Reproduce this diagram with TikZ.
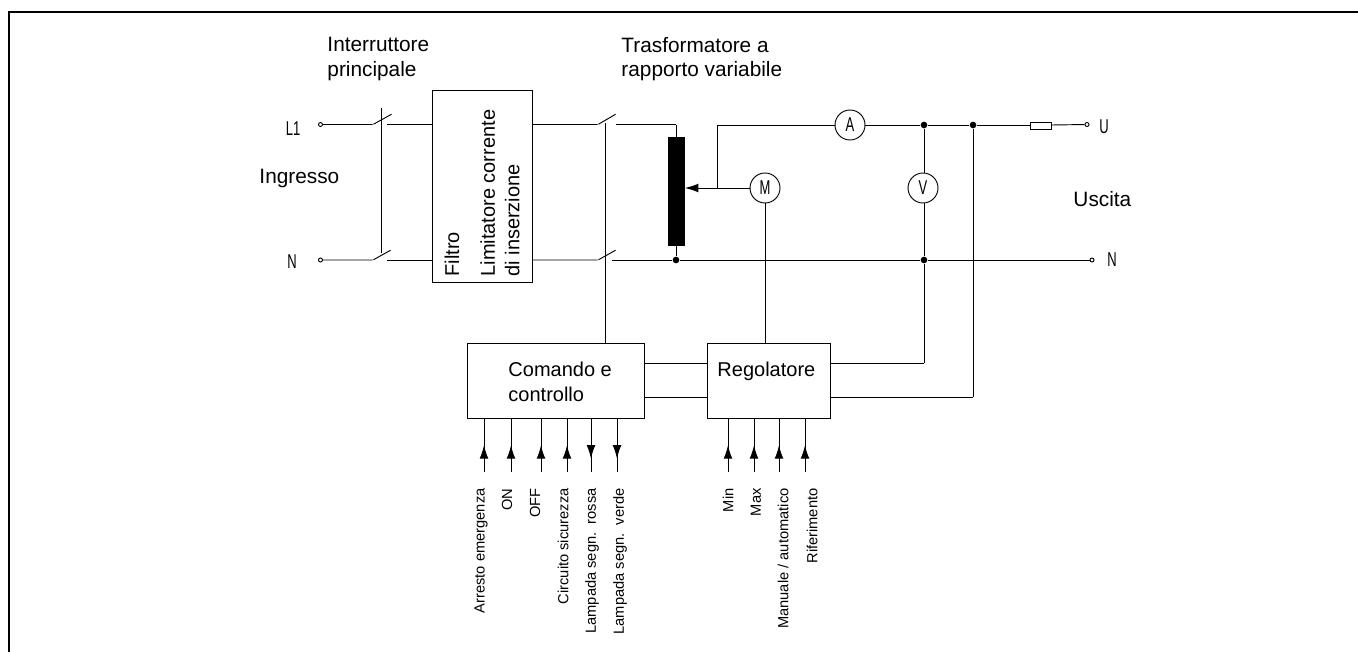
\documentclass[tikz,border=0pt]{standalone}
\usepackage{fontspec}
\setmainfont{Liberation Sans}
\newfontfamily\isofont[FakeStretch=0.65]{Liberation Sans}
\usetikzlibrary{arrows.meta,decorations.markings}
\begin{document}
\begin{tikzpicture}[x=0.75pt,y=-0.75pt,line width=0.7pt]

  \tikzstyle{blockbox}=[draw,anchor=north west,inner sep=0]
  \tikzstyle{meter}=[draw,circle,minimum size=22.5pt,inner sep=0,font=\isofont\fontsize{15}{15}\selectfont]
  \tikzstyle{terminal}=[draw,circle,minimum size=3pt,inner sep=0]
  \tikzstyle{junction}=[fill,circle,minimum size=5pt,inner sep=0]
  \tikzstyle{pin}=[inner sep=0,minimum size=0]
  \tikzstyle{caption}=[anchor=west,align=left,inner sep=0,font=\fontsize{15.6}{18.5}\selectfont]
  \tikzstyle{blocktext}=[anchor=west,align=left,inner sep=0,font=\fontsize{15}{18.5}\selectfont]
  \tikzstyle{iso}=[inner sep=0,font=\isofont\fontsize{15}{15}\selectfont]
  \tikzstyle{signal}=[rotate=90,anchor=east,inner sep=0,font=\fontsize{11}{12}\selectfont]
  \tikzstyle{inarrow}=[postaction={decorate},decoration={markings,mark=at position 0.5 with {\arrow{Latex[length=10pt,width=6.5pt]}}}]
  \tikzstyle{outarrow}=[postaction={decorate},decoration={markings,mark=at position 0.5 with {\arrow{Latex[length=10pt,width=6.5pt,reversed]}}}]

  \useasboundingbox (0,0) rectangle (1358,652);
  \draw[line width=1.5pt] (1358,12) -- (9,12) -- (9,652);

  % blocks
  \path
  (431.5,90) node[blockbox,minimum width=75pt,minimum height=144pt](filter){}
  (467,343) node[blockbox,minimum width=132.75pt,minimum height=56.25pt](control){}
  (707,343) node[blockbox,minimum width=92.25pt,minimum height=56.25pt](regulator){};
  \path (668,137) node[blockbox,fill=black,minimum width=12pt,minimum height=81pt](variac){};
  \path (1030,122) node[blockbox,minimum width=15.75pt,minimum height=5pt](fuse){};

  % meters
  \path
  (850,125) node[meter](ammeter){A}
  (923,188) node[meter](voltmeter){V}
  (765,188) node[meter](motor){M};

  % terminals
  \path
  (320.5,124.5) node[terminal](inL){}
  (320.5,260) node[terminal](inN){}
  (1087,124.5) node[terminal](outU){}
  (1092,260) node[terminal](outN){};

  % junctions
  \path
  (676,260) node[junction](jA){}
  (924,125) node[junction](jB){}
  (973,125) node[junction](jC){}
  (924,260) node[junction](jD){};

  % switch points
  \path
  (373,124.5) node[pin](sa){}
  (392,114) node[pin](sb){}
  (387,124.5) node[pin](sc){}
  (373,260) node[pin](sd){}
  (391,250) node[pin](se){}
  (387,260) node[pin](sf){}
  (598,124.5) node[pin](sg){}
  (616,114) node[pin](sh){}
  (616,124.5) node[pin](si){}
  (598,260) node[pin](sj){}
  (616,250) node[pin](sk){}
  (612,260) node[pin](sl){}
  (381,108) node[pin](la){}
  (381,253) node[pin](lb){}
  (605,123) node[pin](lc){}
  (676,124.5) node[pin](vtop){}
  (717,188) node[pin](wiper){}
  (717,125) node[pin](wtop){}
  (924,363) node[pin](vs){}
  (973,397) node[pin](is){};

  % input side
  \draw (inL)--(sa)--(sb);
  \draw (sc)--(filter.west|-sc);
  \draw (inN)--(sd)--(se);
  \draw (sf)--(filter.west|-sf);
  \draw (la)--(lb);

  % after the filter
  \draw (filter.east|-sg)--(sg)--(sh);
  \draw (si)--(vtop)--(variac.north-|vtop);
  \draw (filter.east|-sj)--(sj)--(sk);
  \draw (sl)--(jA)--(variac.south-|jA);
  \draw (lc)--(control.north-|lc);

  % output side
  \draw[-{Latex[length=10pt,width=6.5pt]}] (motor)--(variac.east|-motor);
  \draw (wiper)--(wtop)--(ammeter);
  \draw (ammeter)--(jB)--(jC)--(fuse.west|-jC);
  \draw (fuse.east|-jC)--(outU);
  \draw (jA)--(jD)--(outN);
  \draw (jB)--(jB|-voltmeter.north);
  \draw (jD|-voltmeter.south)--(jD)--(vs);
  \draw (motor)--(regulator.north-|motor);
  \draw (jC)--(is);
  \draw (regulator.east|-vs)--(vs);
  \draw (regulator.east|-is)--(is);
  \draw (control.east|-vs)--(regulator.west|-vs);
  \draw (control.east|-is)--(regulator.west|-is);

  % signals
  \path
  (484,472) node[pin](ca){}
  (511,472) node[pin](cb){}
  (541,472) node[pin](cc){}
  (567,472) node[pin](cd){}
  (591,472) node[pin](ce){}
  (617,472) node[pin](cf){}
  (728,472) node[pin](ra){}
  (754,472) node[pin](rb){}
  (779,472) node[pin](rc){}
  (805,472) node[pin](rd){};

  \draw[inarrow] (ca)--(control.south-|ca);
  \draw[inarrow] (cb)--(control.south-|cb);
  \draw[inarrow] (cc)--(control.south-|cc);
  \draw[inarrow] (cd)--(control.south-|cd);
  \draw[outarrow] (ce)--(control.south-|ce);
  \draw[outarrow] (cf)--(control.south-|cf);
  \draw[inarrow] (ra)--(regulator.south-|ra);
  \draw[inarrow] (rb)--(regulator.south-|rb);
  \draw[inarrow] (rc)--(regulator.south-|rc);
  \draw[inarrow] (rd)--(regulator.south-|rd);

  % texts
  \path
  (327,59) node[caption](tmain){Interruttore\\principale}
  (621,59) node[caption](tvariac){Trasformatore a\\rapporto variabile}
  (259,179) node[caption](tin){Ingresso}
  (1073,199) node[caption](tout){Uscita}
  (508,382) node[blocktext](tcontrol){Comando e\\controllo}
  (717,371) node[blocktext](tregulator){Regolatore};

  \path
  (293,129) node[iso](tL){L1}
  (292,262) node[iso](tN){N}
  (1104,127) node[iso](tU){U}
  (1112,260) node[iso](tNb){N};

  \path
  (452,277) node[rotate=90,anchor=west,blocktext,anchor=west](tfilter){Filtro}
  (500,277) node[rotate=90,blocktext,anchor=west](tlimit){Limitatore corrente\\di inserzione};

  \path
  (481,488) node[signal](ta){Arresto emergenza}
  (507,488) node[signal](tb){ON}
  (535,488) node[signal](tc){OFF}
  (563,488) node[signal](td){Circuito sicurezza}
  (592,488) node[signal](te){Lampada segn.\ \ rossa}
  (620,488) node[signal](tf){Lampada segn.\ \ verde}
  (728,488) node[signal](tg){Min}
  (756,488) node[signal](th){Max}
  (783,488) node[signal](ti){Manuale / automatico}
  (812,488) node[signal](tj){Riferimento};
\end{tikzpicture}
\end{document}
